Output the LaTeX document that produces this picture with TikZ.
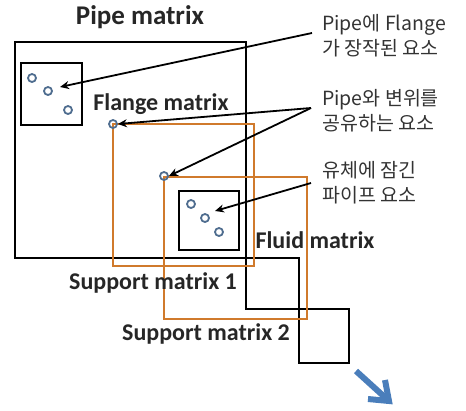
\documentclass[tikz,border=0pt]{standalone}
\usepackage{fontspec}
\setmainfont{Carlito}
\newfontfamily\kr{Noto Sans CJK KR}
\usetikzlibrary{arrows.meta}
\definecolor{orng}{HTML}{D07A2C}
\definecolor{ringc}{HTML}{4F6D8F}
\definecolor{bluea}{HTML}{4A7EBB}
\tikzset{
  box/.style={draw=black,line width=2pt,inner sep=0pt,anchor=north west},
  obox/.style={draw=orng,line width=2pt,inner sep=0pt,anchor=north west},
  ring/.style={circle,draw=ringc,line width=1.8pt,minimum size=8pt,inner sep=0pt},
  lbl/.style={font=\bfseries\fontsize{24}{26}\selectfont,inner sep=0pt,text=black!85},
  note/.style={font=\kr\fontsize{19.5}{25}\selectfont,align=left,anchor=north west,inner sep=0pt,text=black!80},
  arr/.style={line width=1.8pt,-{Stealth[length=9pt,width=8pt]}},
  bluearrow/.style={draw=bluea,line width=6pt,miter limit=10}
}
\begin{document}
\begin{tikzpicture}[x=1pt,y=-1pt]
\useasboundingbox (0,0) rectangle (466,410);
% boxes
\node[box,minimum width=231pt,minimum height=216pt] (pipe) at (14,41) {};
\node[box,minimum width=53pt,minimum height=51pt] (blk1) at (245,257) {};
\node[box,minimum width=50pt,minimum height=54pt] (blk2) at (298,308) {};
\node[obox,minimum width=141pt,minimum height=142pt] (sup1) at (112,123) {};
\node[obox,minimum width=143pt,minimum height=142pt] (sup2) at (163,176) {};
\node[box,minimum width=61pt,minimum height=62pt] (pbox) at (20,62) {};
\node[box,minimum width=60pt,minimum height=59pt] (fbox) at (178,190) {};
% rings
\node[ring] (p1) at (32,78) {};
\node[ring] (p2) at (48,91) {};
\node[ring] (p3) at (68,110) {};
\node[ring] (f1) at (191,204) {};
\node[ring] (f2) at (205,218) {};
\node[ring] (f3) at (219,232) {};
\node[ring] (g1) at (113,124) {};
\node[ring] (g2) at (164,176) {};
% labels
\node[lbl,font=\bfseries\fontsize{27}{29}\selectfont] (tpipe) at (140,17) {Pipe matrix};
\node[lbl] (tflange) at (161,104) {Flange matrix};
\node[lbl] (tfluid) at (315,240) {Fluid matrix};
\node[lbl] (tsup1) at (153,283) {Support matrix 1};
\node[lbl] (tsup2) at (206,334) {Support matrix 2};
% notes
\node[note] (n1) at (322,14) {Pipe에 Flange\\가 장작된 요소};
\node[note] (n2) at (322,89) {Pipe와 변위를\\공유하는 요소};
\node[note] (n3) at (322,161) {유체에 잠긴\\파이프 요소};
% arrow starts
\coordinate (s1) at (312,33);
\coordinate (s2) at (311,108);
\coordinate (s3) at (311,183);
\coordinate (e1) at (60,87);
\coordinate (e3) at (215,211);
\draw[arr] (s1) -- (e1);
\draw[arr] (s2) -- (g1.east);
\draw[arr] (s2) -- (g2.east);
\draw[arr] (s3) -- (e3);
% blue arrow
\coordinate (b1) at (356,371);
\coordinate (b2) at (389,401);
\coordinate (bw1) at (385,380);
\coordinate (bw2) at (368,399);
\draw[bluearrow] (b1) -- (b2);
\draw[bluearrow] (bw1) -- (b2) -- (bw2);
\end{tikzpicture}
\end{document}
